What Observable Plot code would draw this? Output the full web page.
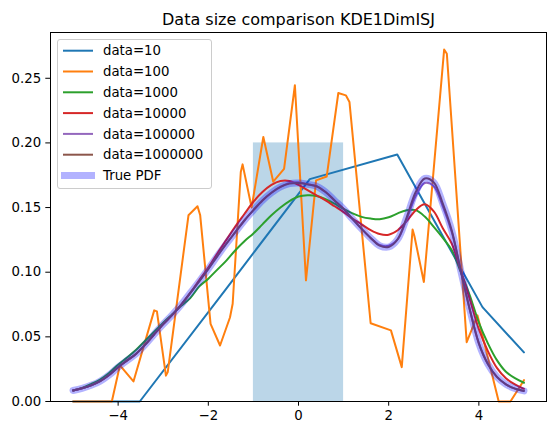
<!DOCTYPE html>
<html><head><meta charset="utf-8">
<script src="https://cdn.jsdelivr.net/npm/d3@7"></script>
<script src="https://cdn.jsdelivr.net/npm/@observablehq/plot@0.6"></script>
<style>
body{margin:0;background:#fff;font-family:"DejaVu Sans",sans-serif}
#c{position:relative;width:556px;height:435px}
#c svg.plot{position:absolute;left:0;top:0}
#legend{position:absolute;left:57px;top:39px;width:155px;height:150px;box-sizing:border-box;border:1px solid #cccccc;border-radius:3px;background:rgba(255,255,255,0.8)}
</style>
</head><body><div id="c"></div>
<script>
const titleText = "Data size comparison KDE1DimISJ";
const seriesNames = ["data=10","data=100","data=1000","data=10000","data=100000","data=1000000","True PDF"];
const seriesColors = ["#1f77b4","#ff7f0e","#2ca02c","#d62728","#9467bd","#8c564b","#0000ff"];

// uniform bar
const barX = [-1, 1];
const barHeight = 0.2;

// data=10 (coarse)
const x10 = [-5, -3.52, -1.63, 0.25, 2.19, 4.08, 5.0];
const y10 = [0, 0, 0.086, 0.172, 0.191, 0.073, 0.038];

// data=100
const x100 = [-5,-4.14,-3.96,-3.66,-3.20,-3.14,-2.94,-2.90,-2.44,-2.24,-2.18,-1.95,-1.74,-1.52,-1.46,-1.28,-1.24,-1.04,-0.78,-0.56,-0.32,-0.08,0.166,0.39,0.625,0.883,1.05,1.13,1.6,2.05,2.29,2.53,2.57,2.78,3.23,3.29,3.73,3.97,4.44,4.70,5.0];
const y100 = [0,0,0.028,0.0155,0.0705,0.0697,0.020,0.0227,0.144,0.151,0.144,0.060,0.0433,0.065,0.0756,0.1775,0.1834,0.150,0.2046,0.170,0.180,0.2446,0.0937,0.171,0.174,0.2386,0.2368,0.2317,0.0605,0.055,0.0266,0.133,0.128,0.0924,0.2722,0.269,0.0459,0.0666,0,0,0.0165];

// common grid for smooth estimates
const xGrid = [-5.0,-4.8,-4.6,-4.4,-4.2,-4.0,-3.8,-3.6,-3.4,-3.2,-3.0,-2.8,-2.6,-2.4,-2.2,-2.0,-1.8,-1.6,-1.4,-1.2,-1.0,-0.8,-0.6,-0.4,-0.2,0.0,0.2,0.4,0.6,0.8,1.0,1.2,1.4,1.6,1.8,2.0,2.2,2.4,2.6,2.8,3.0,3.2,3.4,3.6,3.8,4.0,4.2,4.4,4.6,4.8,5.0];
const y1000 = [0.0085,0.0105,0.0135,0.017,0.022,0.0285,0.034,0.040,0.047,0.054,0.061,0.0675,0.074,0.080,0.089,0.095,0.102,0.109,0.117,0.124,0.130,0.137,0.144,0.150,0.155,0.1585,0.1595,0.159,0.1565,0.153,0.149,0.1455,0.1428,0.1415,0.141,0.1425,0.1455,0.148,0.148,0.143,0.135,0.1265,0.117,0.100,0.082,0.061,0.045,0.032,0.023,0.018,0.0145];
const y10000 = [0.0085,0.0102,0.0125,0.0157,0.0205,0.0265,0.0318,0.037,0.044,0.052,0.0598,0.067,0.075,0.084,0.094,0.1035,0.1145,0.125,0.1355,0.145,0.1545,0.162,0.1675,0.1705,0.1705,0.1675,0.1635,0.1595,0.1555,0.151,0.1465,0.1415,0.137,0.1325,0.1295,0.129,0.1325,0.1395,0.148,0.1525,0.147,0.134,0.122,0.101,0.079,0.056,0.039,0.026,0.018,0.0132,0.0098];
const y100000 = [0.0085,0.0102,0.0125,0.0157,0.0205,0.0265,0.0318,0.037,0.044,0.052,0.0598,0.067,0.075,0.084,0.093,0.1025,0.1125,0.122,0.131,0.140,0.148,0.1555,0.1615,0.166,0.169,0.1695,0.168,0.1665,0.162,0.1555,0.149,0.141,0.1335,0.1265,0.121,0.1205,0.1255,0.141,0.159,0.169,0.1665,0.151,0.131,0.101,0.071,0.045,0.029,0.019,0.0133,0.010,0.0082];
const y1000000 = [0.0085,0.0102,0.0125,0.0157,0.0205,0.0265,0.0318,0.037,0.044,0.052,0.0598,0.067,0.075,0.084,0.093,0.1025,0.1125,0.122,0.131,0.140,0.148,0.1555,0.1615,0.166,0.1685,0.169,0.168,0.1665,0.162,0.1555,0.149,0.141,0.1335,0.1265,0.1205,0.1195,0.1255,0.1425,0.162,0.1725,0.1695,0.153,0.132,0.101,0.071,0.045,0.029,0.019,0.0133,0.010,0.0082];
const yTrue = [0.0085,0.0102,0.0125,0.0157,0.0205,0.0265,0.0318,0.037,0.044,0.052,0.0598,0.067,0.075,0.084,0.093,0.1025,0.1125,0.122,0.131,0.140,0.148,0.1555,0.1615,0.166,0.1685,0.169,0.168,0.1665,0.162,0.1555,0.149,0.141,0.1335,0.1265,0.1205,0.1195,0.1255,0.1425,0.162,0.1725,0.1695,0.153,0.132,0.101,0.071,0.045,0.029,0.019,0.0133,0.010,0.0082];

const xTicks = [-4, -2, 0, 2, 4];
const yTicks = [0, 0.05, 0.10, 0.15, 0.20, 0.25];

const toPts = (xs, ys) => xs.map((x, i) => ({x, y: ys[i]}));
const lineSets = [
  {pts: toPts(x10, y10), curve: "linear"},
  {pts: toPts(x100, y100), curve: "linear"},
  {pts: toPts(xGrid, y1000), curve: "catmull-rom"},
  {pts: toPts(xGrid, y10000), curve: "catmull-rom"},
  {pts: toPts(xGrid, y100000), curve: "catmull-rom"},
  {pts: toPts(xGrid, y1000000), curve: "catmull-rom"}
];

const marks = [
  Plot.rectY([{x1: barX[0], x2: barX[1], y: barHeight}], {x1: "x1", x2: "x2", y: "y", fill: "#1f77b4", fillOpacity: 0.3}),
  ...lineSets.map((s, i) => Plot.line(s.pts, {x: "x", y: "y", stroke: seriesColors[i], strokeWidth: 2, curve: s.curve})),
  Plot.line(toPts(xGrid, yTrue), {x: "x", y: "y", stroke: seriesColors[6], strokeOpacity: 0.3, strokeWidth: 7, curve: "catmull-rom"}),
  Plot.frame({stroke: "black", strokeWidth: 1}),
  Plot.axisX({ticks: xTicks, tickSize: 4.7, tickPadding: 4, fontSize: 13.3, label: null, tickFormat: d3.format("d")}),
  Plot.axisY({ticks: yTicks, tickSize: 4.7, tickPadding: 4.7, fontSize: 13.3, label: null, tickFormat: d3.format(".2f")}),
  Plot.text([titleText], {frameAnchor: "top", lineAnchor: "bottom", dy: -8, fontSize: 16, fill: "black", text: d => d})
];

const chart = Plot.plot({
  width: 556, height: 435,
  marginLeft: 50, marginRight: 10, marginTop: 32, marginBottom: 34,
  x: {domain: [-5.5, 5.5]},
  y: {domain: [0, 0.2854]},
  style: {fontFamily: "DejaVu Sans", fontSize: "13.3px", color: "black", background: "white", overflow: "visible"},
  marks
});
chart.classList.add("plot");
const c = document.getElementById("c");
c.appendChild(chart);

// legend
const lg = document.createElement("div");
lg.id = "legend";
c.appendChild(lg);
const lsvg = d3.select(lg).append("svg").attr("width", 153).attr("height", 148).style("position","absolute").style("left","0").style("top","0");
seriesNames.forEach((name, i) => {
  const cy = 10.7 + i * 20.8;
  const isTrue = i === 6;
  lsvg.append("line").attr("x1", isTrue ? 3 : 5).attr("x2", isTrue ? 37 : 35).attr("y1", cy).attr("y2", cy)
    .attr("stroke", seriesColors[i]).attr("stroke-width", isTrue ? 7 : 2).attr("stroke-opacity", isTrue ? 0.3 : 1);
  lsvg.append("text").attr("x", 45).attr("y", cy).attr("dy", "0.36em").attr("font-size", "13.3px")
    .attr("font-family", "DejaVu Sans").attr("fill", "black").text(name);
});
</script>
</body></html>
